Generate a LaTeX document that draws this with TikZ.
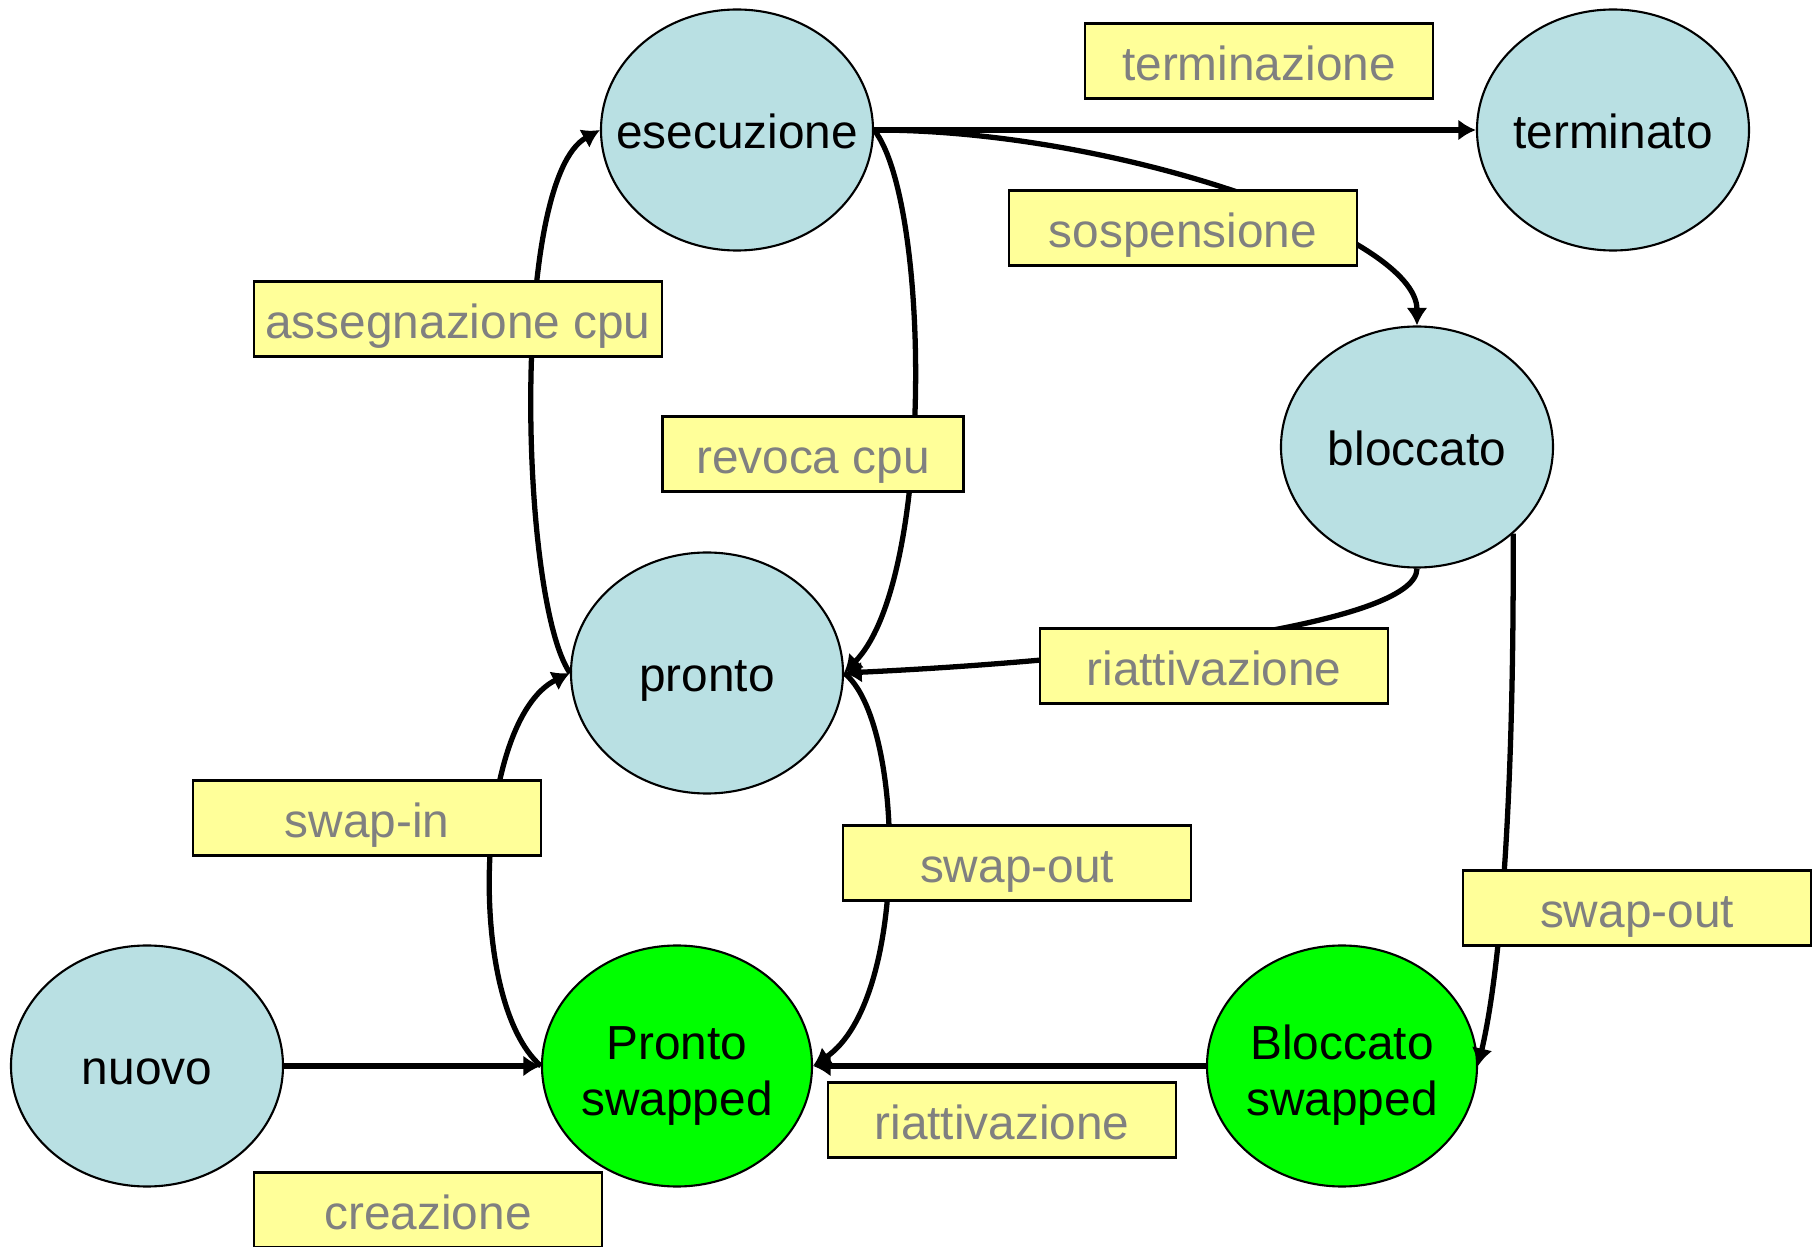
\documentclass[tikz,border=0pt]{standalone}
\usepackage{fontspec}
\setmainfont{Liberation Sans}
\usetikzlibrary{shapes}
\usetikzlibrary{arrows.meta}
\definecolor{azzurro}{RGB}{185,224,227}
\definecolor{verde}{RGB}{0,255,0}
\definecolor{giallo}{RGB}{255,255,153}
\definecolor{grigio}{RGB}{128,128,128}

\begin{document}
\begin{tikzpicture}[font=\fontsize{13.6pt}{16pt}\selectfont,
  stato/.style={ellipse, draw, line width=.6pt, fill=azzurro, minimum width=2.72cm, minimum height=2.41cm, inner sep=0pt, text height=1.95ex, text depth=0pt},
  swapped/.style={stato, fill=verde, minimum width=2.7cm, text height=2.45ex},
  etich/.style={draw, line width=.6pt, fill=giallo, text=grigio, minimum width=3.48cm, minimum height=.75cm, inner sep=0pt, text height=2.4ex, text depth=.35ex},
  freccia/.style={line width=1.5pt, -{Latex[length=5pt,width=6pt]}}]
\useasboundingbox (0,0) rectangle (18.2,12.46);
% the states
\node[stato] (esec) at (7.37,11.16) {\makebox[0pt]{esecuzione}};
\node[stato] (term) at (16.13,11.16) {\makebox[0pt]{terminato}};
\node[stato] (bloc) at (14.17,7.99) {\makebox[0pt]{bloccato}};
\node[stato] (pronto) at (7.07,5.73) {\makebox[0pt]{pronto}};
\node[stato] (nuovo) at (1.47,1.80) {\makebox[0pt]{nuovo}};
%     swapped states
\node[swapped] (ps) at (6.77,1.80) {\makebox[0pt]{\begin{tabular}{@{}c@{}}Pronto\\swapped\end{tabular}}};
\node[swapped] (bs) at (13.42,1.80) {\makebox[0pt]{\begin{tabular}{@{}c@{}}Bloccato\\swapped\end{tabular}}};
% the transitions
\draw[freccia] (esec.east) -- (term.west);
\draw[freccia] (esec.east) .. controls (11.2,11.16) and (14.17,10.1) .. (bloc.north);
\draw[freccia] (pronto.west) .. controls (5.20,6.46) and (5.10,10.66) .. (esec.west);
\draw[freccia] (esec.east) .. controls (9.30,10.46) and (9.35,6.66) .. (pronto.east);
\draw[freccia] (bloc.south) .. controls (14.17,6.2) and (11.0,5.85) .. (pronto.east);
\draw[freccia] (pronto.east) .. controls (9.05,5.26) and (9.10,2.46) .. (ps.east);
\draw[freccia] (ps.west) .. controls (4.65,2.46) and (4.75,5.26) .. (pronto.west);
\draw[freccia] (nuovo.east) -- (ps.west);
\draw[freccia] (bs.west) -- (ps.east);
\draw[freccia] (bloc.-42) .. controls (15.14,4.96) and (15.05,2.96) .. (bs.east);
% the yellow labels
\node[etich] (l-term) at (12.59,11.85) {terminazione};
\node[etich] (l-sosp) at (11.83,10.18) {sospensione};
\node[etich, minimum width=4.08cm] (l-cpu) at (4.58,9.27) {assegnazione cpu};
\node[etich, minimum width=3.01cm] (l-rev) at (8.13,7.92) {revoca cpu};
\node[etich] (l-riatt) at (12.14,5.80) {riattivazione};
\node[etich] (l-in) at (3.67,4.28) {swap-in};
\node[etich] (l-out) at (10.17,3.83) {swap-out};
\node[etich] (l-outb) at (16.37,3.38) {swap-out};
\node[etich] (l-riattb) at (10.02,1.26) {riattivazione};
\node[etich] (l-crea) at (4.28,0.36) {creazione};
\end{tikzpicture}
\end{document}
